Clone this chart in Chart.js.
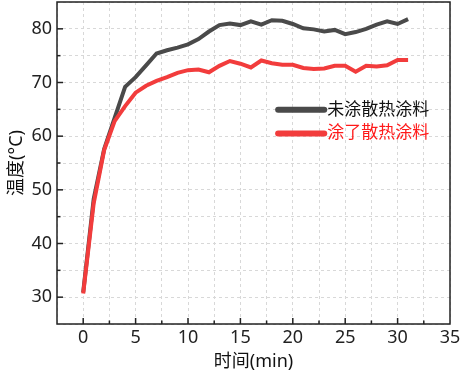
<!DOCTYPE html>
<html>
<head>
<meta charset="utf-8">
<script src="https://cdn.jsdelivr.net/npm/chart.js@4/dist/chart.umd.min.js"></script>
<style>
	html, body { margin: 0; padding: 0; background: #fff; }
	#wrap { width: 468px; height: 374px; }
</style>
</head>
<body>
<div id="wrap"><canvas id="c" width="468" height="374"></canvas></div>
<script>
"use strict";

const minutes = [0, 1, 2, 3, 4, 5, 6, 7, 8, 9, 10, 11, 12, 13, 14, 15, 16, 17, 18, 19, 20, 21, 22, 23, 24, 25, 26, 27, 28, 29, 30, 31];
const uncoated = [30.9, 48.3, 57.6, 63.4, 69.2, 71.0, 73.2, 75.4, 76.0, 76.5, 77.1, 78.1, 79.5, 80.7, 81.0, 80.7, 81.4, 80.8, 81.6, 81.5, 80.9, 80.1, 79.9, 79.5, 79.8, 79.0, 79.4, 80.0, 80.8, 81.4, 80.9, 81.8];
const coated = [30.7, 47.5, 57.4, 62.8, 65.6, 68.1, 69.4, 70.3, 71.0, 71.8, 72.3, 72.4, 71.9, 73.1, 74.0, 73.5, 72.8, 74.1, 73.6, 73.3, 73.3, 72.7, 72.5, 72.6, 73.1, 73.1, 72.0, 73.1, 73.0, 73.2, 74.2, 74.2];
const seriesLabels = ['未涂散热涂料', '涂了散热涂料'];
const seriesColors = ['#4a4a4a', '#f23c3c'];
const legendTextColors = ['#111111', '#ff1a1a'];
const xTitle = '时间(min)';
const yTitle = '温度(°C)';

const FONT = "'Noto Sans', 'Noto Sans CJK SC', sans-serif";

function points(ys) {
	return minutes.map(function(m, i) { return { x: m, y: ys[i] }; });
}

// frame, inward ticks and the in-plot legend
const framePlugin = {
	id: 'frame',
	afterDraw: function(chart) {
		const ctx = chart.ctx;
		const a = chart.chartArea;
		const xs = chart.scales.x;
		const ys = chart.scales.y;
		ctx.save();
		ctx.strokeStyle = '#222';
		ctx.lineWidth = 1.5;
		xs.ticks.forEach(function(t) {
			if (t.value <= xs.min || t.value >= xs.max) return;
			const px = xs.getPixelForValue(t.value);
			const len = (t.value % 5 === 0) ? 6 : 3.5;
			ctx.beginPath();
			ctx.moveTo(px, a.bottom);
			ctx.lineTo(px, a.bottom - len);
			ctx.stroke();
		});
		ys.ticks.forEach(function(t) {
			if (t.value <= ys.min || t.value >= ys.max) return;
			const py = ys.getPixelForValue(t.value);
			const len = (t.value % 10 === 0) ? 6 : 3.5;
			ctx.beginPath();
			ctx.moveTo(a.left, py);
			ctx.lineTo(a.left + len, py);
			ctx.stroke();
		});
		ctx.strokeRect(a.left, a.top, a.right - a.left, a.bottom - a.top);

		// legend
		const lx0 = xs.getPixelForValue(18.6);
		const lx1 = xs.getPixelForValue(23.0);
		const rows = [64.9, 60.5];
		ctx.font = '17px ' + FONT;
		ctx.textBaseline = 'middle';
		ctx.textAlign = 'left';
		rows.forEach(function(v, i) {
			const py = ys.getPixelForValue(v);
			ctx.strokeStyle = seriesColors[i];
			ctx.lineWidth = 6;
			ctx.lineCap = 'round';
			ctx.beginPath();
			ctx.moveTo(lx0, py);
			ctx.lineTo(lx1, py);
			ctx.stroke();
			ctx.fillStyle = legendTextColors[i];
			ctx.fillText(seriesLabels[i], lx1 + 3, py);
		});
		ctx.restore();
	}
};

new Chart(document.getElementById('c'), {
	type: 'line',
	data: {
		datasets: [
			{
				label: seriesLabels[0],
				data: points(uncoated),
				borderColor: seriesColors[0],
				borderWidth: 4,
				pointRadius: 0,
				tension: 0,
				order: 2,
			},
			{
				label: seriesLabels[1],
				data: points(coated),
				borderColor: seriesColors[1],
				borderWidth: 4,
				pointRadius: 0,
				tension: 0,
				order: 1,
			}
		]
	},
	plugins: [framePlugin],
	options: {
		responsive: false,
		animation: false,
		devicePixelRatio: 1,
		layout: {
			padding: { left: 6, right: 18, top: 2, bottom: 1 }
		},
		scales: {
			x: {
				type: 'linear',
				min: -2.5,
				max: 35,
				afterFit: function(s) {
					s.height = 49;
					s.paddingLeft = 0;
					s.paddingRight = 0;
				},
				ticks: {
					stepSize: 2.5,
					autoSkip: false,
					maxRotation: 0,
					color: '#222',
					padding: 3,
					font: { family: FONT, size: 18 },
					callback: function(v) { return (v % 5 === 0) ? String(v) : ''; }
				},
				grid: {
					color: '#d8d8d8',
					drawTicks: false,
					tickLength: 0,
				},
				border: { display: false, dash: [3, 3] },
				title: {
					display: true,
					text: xTitle,
					color: '#111',
					padding: { top: 0, bottom: 0 },
					font: { family: FONT, size: 18 }
				}
			},
			y: {
				min: 25,
				max: 85,
				afterFit: function(s) {
					s.width = 51;
					s.paddingTop = 0;
					s.paddingBottom = 0;
				},
				ticks: {
					stepSize: 5,
					autoSkip: false,
					color: '#222',
					padding: 5,
					font: { family: FONT, size: 18 },
					callback: function(v) { return (v % 10 === 0) ? String(v) : ''; }
				},
				grid: {
					color: '#d8d8d8',
					drawTicks: false,
					tickLength: 0,
				},
				border: { display: false, dash: [3, 3] },
				title: {
					display: true,
					text: yTitle,
					color: '#111',
					padding: { top: 0, bottom: 0 },
					font: { family: FONT, size: 18 }
				}
			}
		},
		plugins: {
			legend: { display: false },
			tooltip: { enabled: false }
		}
	}
});
</script>
</body>
</html>
